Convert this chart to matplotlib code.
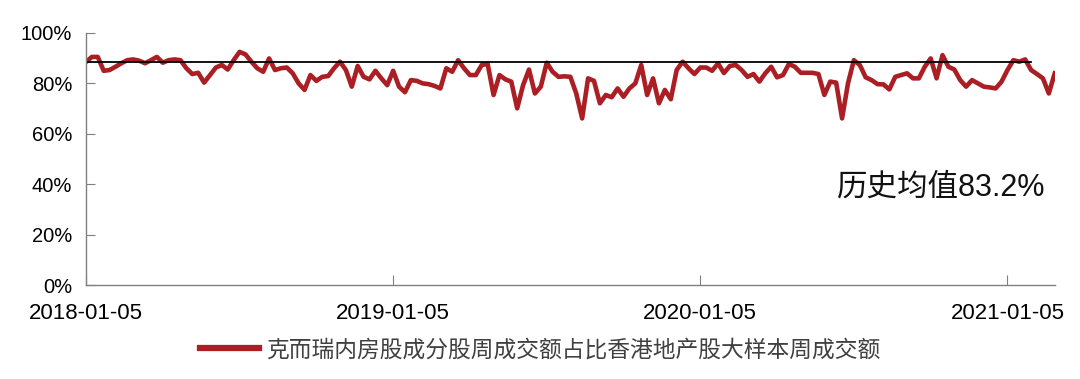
import matplotlib
matplotlib.use("Agg")
import matplotlib.pyplot as plt
import numpy as np

plt.rcParams["font.family"] = ["Liberation Sans", "Noto Sans CJK SC", "DejaVu Sans"]

# weekly share (%) of HK property trading done by Southbound-listed names
share = [
    88.5, 90.5, 90.5, 85.0, 85.3, 86.6, 88.0, 89.2, 89.5, 89.0,
    88.0, 89.2, 90.5, 88.2, 89.2, 89.5, 89.2, 86.0, 83.7, 84.2,
    80.3, 83.3, 86.3, 87.3, 85.5, 89.2, 92.5, 91.5, 88.6, 86.0,
    84.6, 89.9, 85.3, 86.0, 86.3, 84.0, 80.0, 77.4, 83.3, 81.0,
    82.6, 82.9, 86.0, 88.6, 85.3, 78.7, 86.9, 82.6, 81.6, 85.0,
    82.0, 79.3, 85.0, 78.7, 76.5, 81.3, 81.0, 80.0, 79.7, 79.0,
    78.0, 86.0, 84.6, 89.2, 86.0, 83.3, 83.3, 87.3, 87.7, 75.4,
    83.3, 81.6, 80.7, 70.1, 79.3, 85.5, 76.0, 78.7, 88.2, 84.6,
    82.6, 82.8, 82.6, 76.0, 66.1, 82.0, 81.0, 72.1, 75.4, 74.5,
    78.0, 74.7, 78.0, 80.0, 87.3, 75.4, 82.0, 72.1, 77.4, 73.7,
    85.3, 88.6, 86.0, 83.7, 86.3, 86.3, 85.0, 87.9, 84.1, 86.9,
    87.3, 85.3, 82.6, 83.7, 80.7, 84.0, 86.6, 82.4, 83.3, 87.7,
    86.6, 84.2, 84.2, 84.2, 83.7, 75.4, 80.7, 80.3, 66.1, 80.0,
    89.2, 87.3, 82.4, 81.3, 79.7, 79.6, 77.6, 82.6, 83.3, 84.0,
    82.0, 82.0, 86.6, 89.9, 82.0, 91.2, 86.6, 85.5, 81.3, 78.7,
    81.3, 80.0, 78.7, 78.4, 78.0, 80.7, 85.3, 89.2, 88.6, 89.5,
    85.3, 83.7, 82.0, 76.0, 84.0,
]
mean_level = 88.6
mean_end = 160

tick_pos = [0, 52, 104, 156]
tick_labels = ["2018-01-05", "2019-01-05", "2020-01-05", "2021-01-05"]
y_ticks = [0, 20, 40, 60, 80, 100]

series_name = "克而瑞内房股成分股周成交额占比香港地产股大样本周成交额"
note = "历史均值83.2%"

fig = plt.figure(figsize=(10.8, 3.79), dpi=100)
ax = fig.add_axes([0.0796, 0.248, 0.897, 0.665])

x = np.arange(len(share))
ax.plot(x, share, color="#AA1E24", lw=3.3, solid_joinstyle="round", label=series_name)
ax.plot([0, mean_end], [mean_level, mean_level], color="black", lw=1.3)

ax.set_xlim(0, len(share) - 1)
ax.set_ylim(0, 100)
ax.set_yticks(y_ticks)
ax.set_yticklabels([f"{v}%" for v in y_ticks], fontsize=14.5)
ax.set_xticks(tick_pos)
ax.set_xticklabels(tick_labels, fontsize=16)

ax.spines["top"].set_visible(False)
ax.spines["right"].set_visible(False)
for s in ["left", "bottom"]:
    ax.spines[s].set_color("#808080")
    ax.spines[s].set_linewidth(1.0)
ax.tick_params(axis="y", direction="in", length=6.5, color="#808080", pad=10)
ax.tick_params(axis="x", direction="in", length=7, color="#808080", pad=13)

ax.text(162.5, 38.5, note, fontsize=22, ha="right", va="center", color="#111111")

leg = ax.legend(loc="upper center", bbox_to_anchor=(0.469, -0.13), frameon=False,
                fontsize=16.4, handlelength=2.6, handletextpad=0.3)
for t in leg.get_texts():
    t.set_color("#404040")
for h in leg.get_lines():
    h.set_linewidth(4.5)

fig.savefig("out.png", dpi=100)
